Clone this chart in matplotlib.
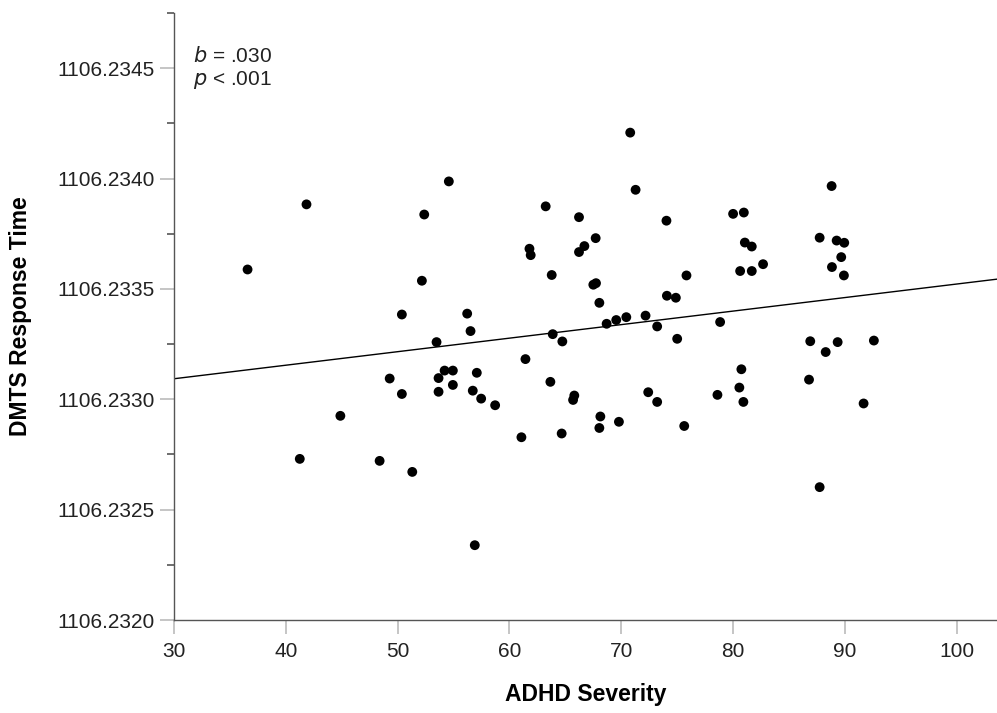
import matplotlib
matplotlib.use('Agg')
import matplotlib.pyplot as plt
from matplotlib.ticker import MultipleLocator, FormatStrFormatter
import numpy as np

plt.rcParams['font.family'] = ['Liberation Sans', 'DejaVu Sans']

# ADHD severity vs DMTS response time
adhd = [36.58, 41.85, 54.58, 52.38, 63.24, 66.22, 61.79, 61.90, 66.22, 66.70,
        63.78, 67.50, 67.74, 52.17, 50.38, 56.22, 56.52, 53.48, 63.87, 64.73,
        61.43, 49.29, 54.20, 54.94, 53.66, 57.08, 63.66, 50.38, 53.66, 54.94,
        56.72, 57.47, 58.72, 65.80, 65.69, 44.88, 61.07, 64.67, 41.25, 48.39,
        51.31, 56.90,
        70.80, 71.28, 67.71, 74.04, 80.00, 80.96, 81.05, 81.67, 82.68, 80.63,
        81.67, 88.81, 87.74, 89.26, 89.94, 89.67, 88.84, 89.91, 75.83, 68.04,
        74.08, 74.88, 68.69, 69.55, 70.45, 72.17, 73.21, 78.84, 75.00, 86.90,
        88.28, 89.35, 92.59, 80.74, 80.56, 80.92, 78.60, 86.79, 72.41, 73.21,
        68.13, 68.04, 69.79, 75.63, 91.67, 87.74]
dmts = [1106.233588, 1106.233883, 1106.233987, 1106.233837, 1106.233874,
        1106.233825, 1106.233682, 1106.233653, 1106.233667, 1106.233694,
        1106.233563, 1106.233519, 1106.233526, 1106.233537, 1106.233384,
        1106.233388, 1106.233309, 1106.233259, 1106.233295, 1106.233262,
        1106.233182, 1106.233094, 1106.233130, 1106.233130, 1106.233096,
        1106.233120, 1106.233079, 1106.233024, 1106.233034, 1106.233065,
        1106.233039, 1106.233003, 1106.232973, 1106.233017, 1106.232997,
        1106.232925, 1106.232828, 1106.232845, 1106.232730, 1106.232721,
        1106.232671, 1106.232339,
        1106.234208, 1106.233949, 1106.233730, 1106.233809, 1106.233840,
        1106.233846, 1106.233710, 1106.233692, 1106.233612, 1106.233581,
        1106.233581, 1106.233966, 1106.233732, 1106.233719, 1106.233709,
        1106.233644, 1106.233599, 1106.233561, 1106.233561, 1106.233437,
        1106.233469, 1106.233460, 1106.233342, 1106.233359, 1106.233372,
        1106.233379, 1106.233330, 1106.233350, 1106.233274, 1106.233263,
        1106.233214, 1106.233259, 1106.233266, 1106.233136, 1106.233053,
        1106.232988, 1106.233020, 1106.233089, 1106.233032, 1106.232988,
        1106.232922, 1106.232870, 1106.232898, 1106.232879, 1106.232981,
        1106.232602]

# fit line as drawn: value at x=30 and slope per unit
fit_x0 = 30.0
fit_y0 = 1106.233093
fit_slope = 6.13e-6

x_ticks = [30, 40, 50, 60, 70, 80, 90, 100]
stats_text = ['$b$ = .030', '$p$ < .001']

fig = plt.figure(figsize=(9.97, 7.13), dpi=100)
ax = fig.add_axes([0.1745, 0.1304, 0.8255, 0.8514])

xlim = (30, 103.6)
ax.set_xlim(*xlim)
ax.set_ylim(1106.2320, 1106.23475)

ax.scatter(adhd, dmts, s=50, color='black', edgecolors='none', zorder=3)

lx = np.array(xlim)
ax.plot(lx, fit_y0 + fit_slope * (lx - fit_x0), color='black', lw=1.0,
        zorder=2)

ax.set_xticks(x_ticks)
ax.yaxis.set_major_locator(MultipleLocator(0.0005))
ax.yaxis.set_minor_locator(MultipleLocator(0.00025))
ax.yaxis.set_major_formatter(FormatStrFormatter('%.4f'))

for side in ['top', 'right']:
    ax.spines[side].set_visible(False)
for side in ['left', 'bottom']:
    ax.spines[side].set_color('#555555')
    ax.spines[side].set_linewidth(1.0)

ax.tick_params(axis='both', which='major', length=10, width=1.2,
               color='#bbbbbb', labelsize=15, labelcolor='#222222', pad=4)
ax.tick_params(axis='x', which='major', pad=6)
ax.tick_params(axis='y', which='minor', length=5, width=1.2, color='#555555')

ax.set_xlabel('ADHD Severity', fontsize=16.5, fontweight='bold', labelpad=16)
ax.set_ylabel('DMTS Response Time', fontsize=16.5, fontweight='bold',
              labelpad=18)

ax.text(0.023, 0.945, stats_text[0] + '\n' + stats_text[1],
        transform=ax.transAxes, fontsize=15, color='#222222',
        va='top', ha='left', linespacing=1.15)

fig.savefig('out.png', dpi=100)
